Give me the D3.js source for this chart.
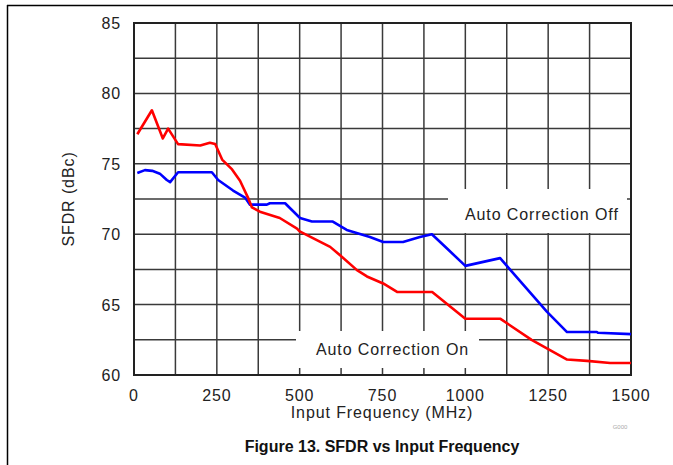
<!DOCTYPE html>
<html>
<head>
<meta charset="utf-8">
<script src="https://cdn.jsdelivr.net/npm/d3@7"></script>
<style>
  body { margin: 0; background: #fff; }
  svg { display: block; font-family: "Liberation Sans", Arial, sans-serif; }
</style>
</head>
<body>
<svg width="673" height="465"></svg>
<script>
// data (MHz, dBc)
var corrOffFreq = [10, 33, 55, 78, 99, 109, 133, 235, 254, 299, 335, 350, 401, 410, 456, 501, 537, 600, 642, 712, 752, 812, 863, 899, 944, 1000, 1105, 1246, 1307, 1397, 1400, 1500];
var corrOffSfdr = [74.35, 74.55, 74.5, 74.3, 73.85, 73.7, 74.4, 74.4, 73.85, 73.1, 72.6, 72.1, 72.1, 72.2, 72.2, 71.15, 70.9, 70.9, 70.3, 69.8, 69.45, 69.45, 69.8, 70.0, 69.0, 67.75, 68.3, 64.5, 63.05, 63.05, 63.0, 62.9];

var corrOnFreq = [10, 54, 87, 103, 133, 200, 229, 245, 266, 296, 320, 344, 356, 380, 440, 492, 500, 592, 622, 673, 703, 752, 794, 900, 1000, 1105, 1200, 1307, 1367, 1437, 1500];
var corrOnSfdr = [77.1, 78.8, 76.8, 77.5, 76.4, 76.3, 76.5, 76.4, 75.3, 74.6, 73.8, 72.6, 71.9, 71.6, 71.15, 70.4, 70.2, 69.1, 68.5, 67.45, 67.0, 66.5, 65.9, 65.9, 64.0, 64.0, 62.5, 61.1, 61.0, 60.85, 60.85];

var xTickLabels = [0, 250, 500, 750, 1000, 1250, 1500];
var yTickLabels = [60, 65, 70, 75, 80, 85];

var svg = d3.select("svg");
var plotL = 134, plotR = 631, plotT = 23, plotB = 375;

var x = d3.scaleLinear().domain([0, 1500]).range([plotL, plotR]);
var y = d3.scaleLinear().domain([60, 85]).range([plotB, plotT]);

// outer frame
svg.append("line").attr("x1", 7.5).attr("x2", 7.5).attr("y1", 5).attr("y2", 465)
  .attr("stroke", "#000").attr("stroke-width", 1.5);
svg.append("line").attr("x1", 7).attr("x2", 673).attr("y1", 5.5).attr("y2", 5.5)
  .attr("stroke", "#000").attr("stroke-width", 1.5);

// grid
var grid = svg.append("g").attr("stroke", "#3a3a3a").attr("stroke-width", 1.5);
grid.selectAll(".vx").data(d3.range(125, 1500, 125)).enter().append("line")
  .attr("x1", d => x(d)).attr("x2", d => x(d)).attr("y1", plotT).attr("y2", plotB);
grid.selectAll(".hy").data(d3.range(62.5, 85, 2.5)).enter().append("line")
  .attr("x1", plotL).attr("x2", plotR).attr("y1", d => y(d)).attr("y2", d => y(d));

// boxes behind labels hide the grid
svg.append("rect").attr("x", 448).attr("y", 189).attr("width", 179).attr("height", 44).attr("fill", "#fff");
svg.append("rect").attr("x", 296).attr("y", 331).attr("width", 183).attr("height", 37).attr("fill", "#fff");

// frame of plot
svg.append("rect").attr("x", plotL).attr("y", plotT).attr("width", plotR - plotL).attr("height", plotB - plotT)
  .attr("fill", "none").attr("stroke", "#222").attr("stroke-width", 2);

// curves
var line = d3.line().x(d => x(d[0])).y(d => y(d[1]));
svg.append("path").datum(d3.zip(corrOffFreq, corrOffSfdr)).attr("d", line)
  .attr("fill", "none").attr("stroke", "#0000ff").attr("stroke-width", 2.6).attr("stroke-linejoin", "round");
svg.append("path").datum(d3.zip(corrOnFreq, corrOnSfdr)).attr("d", line)
  .attr("fill", "none").attr("stroke", "#ff0000").attr("stroke-width", 2.6).attr("stroke-linejoin", "round");

// axes labels
svg.selectAll(".xl").data(xTickLabels).enter().append("text")
  .attr("x", d => x(d)).attr("y", 401).attr("text-anchor", "middle")
  .attr("font-size", 16).attr("letter-spacing", 0.9).attr("fill", "#222").text(d => d);
svg.selectAll(".yl").data(yTickLabels).enter().append("text")
  .attr("x", 121).attr("y", d => y(d) + 6).attr("text-anchor", "end")
  .attr("font-size", 16).attr("letter-spacing", 0.9).attr("fill", "#222").text(d => d);

svg.append("text").attr("x", 382).attr("y", 418).attr("text-anchor", "middle")
  .attr("font-size", 16).attr("letter-spacing", 0.9).attr("fill", "#222").text("Input Frequency (MHz)");
svg.append("text").attr("transform", "translate(74,199) rotate(-90)").attr("text-anchor", "middle")
  .attr("font-size", 16).attr("letter-spacing", 0.9).attr("fill", "#222").text("SFDR (dBc)");

svg.append("text").attr("x", 465).attr("y", 220).attr("font-size", 16).attr("letter-spacing", 0.9).attr("fill", "#222")
  .text("Auto Correction Off");
svg.append("text").attr("x", 316).attr("y", 355).attr("font-size", 16).attr("letter-spacing", 0.9).attr("fill", "#222")
  .text("Auto Correction On");

svg.append("text").attr("x", 620).attr("y", 429).attr("text-anchor", "middle")
  .attr("font-size", 6).attr("fill", "#aaa").text("G000");

svg.append("text").attr("x", 382).attr("y", 452).attr("text-anchor", "middle")
  .attr("font-size", 16).attr("font-weight", "bold").attr("fill", "#111")
  .text("Figure 13. SFDR vs Input Frequency");
</script>
</body>
</html>
